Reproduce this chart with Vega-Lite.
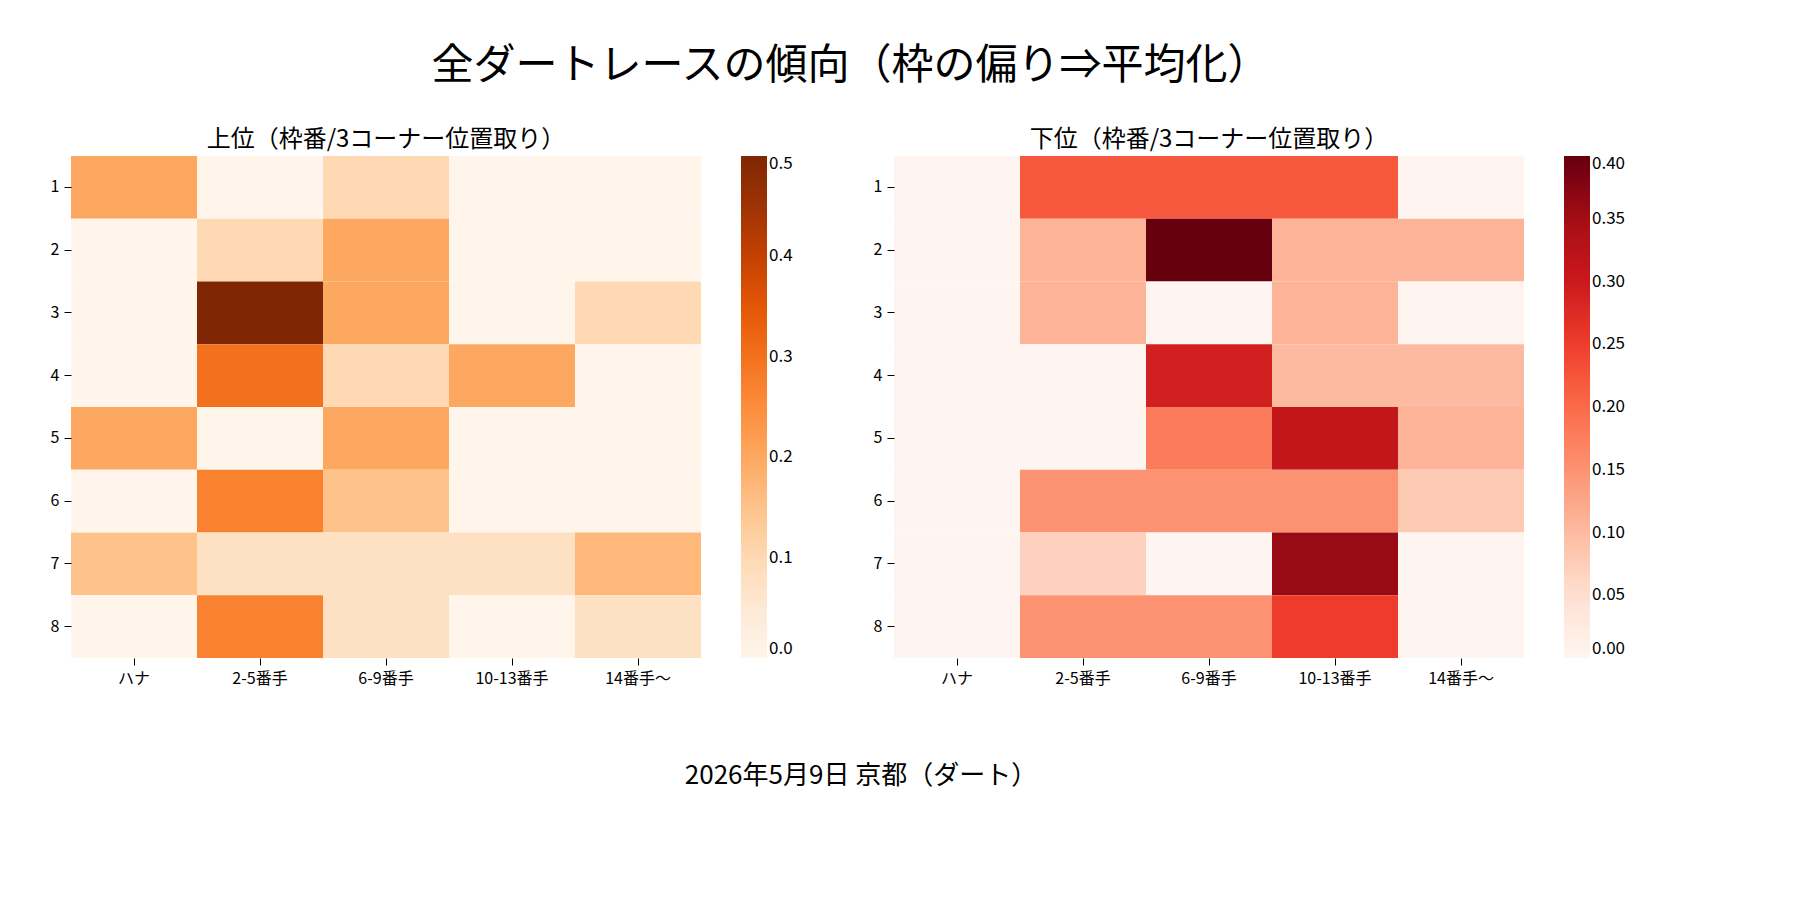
{
  "$schema": "https://vega.github.io/schema/vega-lite/v6.json",
  "padding": {"left": 50, "top": 45, "right": 20, "bottom": 20},
  "config": {
    "font": "Noto Sans CJK JP",
    "view": {"stroke": null},
    "axis": {"domain": false, "labelFontSize": 16, "labelColor": "#000", "tickColor": "#000", "tickSize": 7, "labelPadding": 5, "title": null},
    "legend": {"labelFontSize": 17, "labelColor": "#000", "gradientLength": 502, "gradientThickness": 26, "title": null, "offset": 40, "gradientStrokeWidth": 0},
    "title": {"fontSize": 24, "fontWeight": "normal", "color": "#000"}
  },
  "title": {"text": "全ダートレースの傾向（枠の偏り⇒平均化）", "fontSize": 42, "fontWeight": "normal", "offset": 40, "anchor": "middle"},
  "datasets": {
    "top": [
      {"r":1,"c":"ハナ","v":0.2},{"r":1,"c":"2-5番手","v":0},{"r":1,"c":"6-9番手","v":0.1},{"r":1,"c":"10-13番手","v":0},{"r":1,"c":"14番手〜","v":0},
      {"r":2,"c":"ハナ","v":0},{"r":2,"c":"2-5番手","v":0.1},{"r":2,"c":"6-9番手","v":0.2},{"r":2,"c":"10-13番手","v":0},{"r":2,"c":"14番手〜","v":0},
      {"r":3,"c":"ハナ","v":0},{"r":3,"c":"2-5番手","v":0.5},{"r":3,"c":"6-9番手","v":0.2},{"r":3,"c":"10-13番手","v":0},{"r":3,"c":"14番手〜","v":0.1},
      {"r":4,"c":"ハナ","v":0},{"r":4,"c":"2-5番手","v":0.3},{"r":4,"c":"6-9番手","v":0.1},{"r":4,"c":"10-13番手","v":0.2},{"r":4,"c":"14番手〜","v":0},
      {"r":5,"c":"ハナ","v":0.2},{"r":5,"c":"2-5番手","v":0},{"r":5,"c":"6-9番手","v":0.2},{"r":5,"c":"10-13番手","v":0},{"r":5,"c":"14番手〜","v":0},
      {"r":6,"c":"ハナ","v":0},{"r":6,"c":"2-5番手","v":0.27},{"r":6,"c":"6-9番手","v":0.15},{"r":6,"c":"10-13番手","v":0},{"r":6,"c":"14番手〜","v":0},
      {"r":7,"c":"ハナ","v":0.15},{"r":7,"c":"2-5番手","v":0.08},{"r":7,"c":"6-9番手","v":0.08},{"r":7,"c":"10-13番手","v":0.08},{"r":7,"c":"14番手〜","v":0.17},
      {"r":8,"c":"ハナ","v":0},{"r":8,"c":"2-5番手","v":0.27},{"r":8,"c":"6-9番手","v":0.08},{"r":8,"c":"10-13番手","v":0},{"r":8,"c":"14番手〜","v":0.08}
    ],
    "bottom": [
      {"r":1,"c":"ハナ","v":0},{"r":1,"c":"2-5番手","v":0.22},{"r":1,"c":"6-9番手","v":0.22},{"r":1,"c":"10-13番手","v":0.22},{"r":1,"c":"14番手〜","v":0},
      {"r":2,"c":"ハナ","v":0},{"r":2,"c":"2-5番手","v":0.11},{"r":2,"c":"6-9番手","v":0.4},{"r":2,"c":"10-13番手","v":0.11},{"r":2,"c":"14番手〜","v":0.11},
      {"r":3,"c":"ハナ","v":0},{"r":3,"c":"2-5番手","v":0.11},{"r":3,"c":"6-9番手","v":0},{"r":3,"c":"10-13番手","v":0.11},{"r":3,"c":"14番手〜","v":0},
      {"r":4,"c":"ハナ","v":0},{"r":4,"c":"2-5番手","v":0},{"r":4,"c":"6-9番手","v":0.29},{"r":4,"c":"10-13番手","v":0.1},{"r":4,"c":"14番手〜","v":0.1},
      {"r":5,"c":"ハナ","v":0},{"r":5,"c":"2-5番手","v":0},{"r":5,"c":"6-9番手","v":0.18},{"r":5,"c":"10-13番手","v":0.31},{"r":5,"c":"14番手〜","v":0.11},
      {"r":6,"c":"ハナ","v":0},{"r":6,"c":"2-5番手","v":0.15},{"r":6,"c":"6-9番手","v":0.15},{"r":6,"c":"10-13番手","v":0.15},{"r":6,"c":"14番手〜","v":0.08},
      {"r":7,"c":"ハナ","v":0},{"r":7,"c":"2-5番手","v":0.07},{"r":7,"c":"6-9番手","v":0},{"r":7,"c":"10-13番手","v":0.36},{"r":7,"c":"14番手〜","v":0},
      {"r":8,"c":"ハナ","v":0},{"r":8,"c":"2-5番手","v":0.15},{"r":8,"c":"6-9番手","v":0.15},{"r":8,"c":"10-13番手","v":0.25},{"r":8,"c":"14番手〜","v":0}
    ],
    "caption": [{"t": "2026年5月9日 京都（ダート）"}]
  },
  "vconcat": [
    {
      "hconcat": [
        {
          "title": "上位（枠番/3コーナー位置取り）",
          "width": 630, "height": 502,
          "data": {"name": "top"},
          "mark": {"type": "rect", "strokeWidth": 0},
          "encoding": {
            "x": {"field": "c", "type": "nominal", "sort": ["ハナ","2-5番手","6-9番手","10-13番手","14番手〜"], "axis": {"labelAngle": 0}},
            "y": {"field": "r", "type": "ordinal"},
            "color": {"field": "v", "type": "quantitative", "scale": {"range": ["#fff5eb","#fee6ce","#fdd0a2","#fdae6b","#fd8d3c","#f16913","#d94801","#a63603","#7f2704"], "domain": [0, 0.5]}, "legend": {"values": [0,0.1,0.2,0.3,0.4,0.5], "format": ".1f"}}
          }
        },
        {
          "title": "下位（枠番/3コーナー位置取り）",
          "width": 630, "height": 502,
          "data": {"name": "bottom"},
          "mark": {"type": "rect", "strokeWidth": 0},
          "encoding": {
            "x": {"field": "c", "type": "nominal", "sort": ["ハナ","2-5番手","6-9番手","10-13番手","14番手〜"], "axis": {"labelAngle": 0}},
            "y": {"field": "r", "type": "ordinal"},
            "color": {"field": "v", "type": "quantitative", "scale": {"range": ["#fff5f0","#fee0d2","#fcbba1","#fc9272","#fb6a4a","#ef3b2c","#cb181d","#a50f15","#67000d"], "domain": [0, 0.4]}, "legend": {"values": [0,0.05,0.1,0.15,0.2,0.25,0.3,0.35,0.4], "format": ".2f"}}
          }
        }
      ],
      "spacing": 80,
      "resolve": {"scale": {"color": "independent"}}
    },
    {
      "width": 1580, "height": 30,
      "data": {"name": "caption"},
      "mark": {"type": "text", "fontSize": 26, "color": "#000"},
      "encoding": {"text": {"field": "t"}}
    }
  ],
  "spacing": 75
}
